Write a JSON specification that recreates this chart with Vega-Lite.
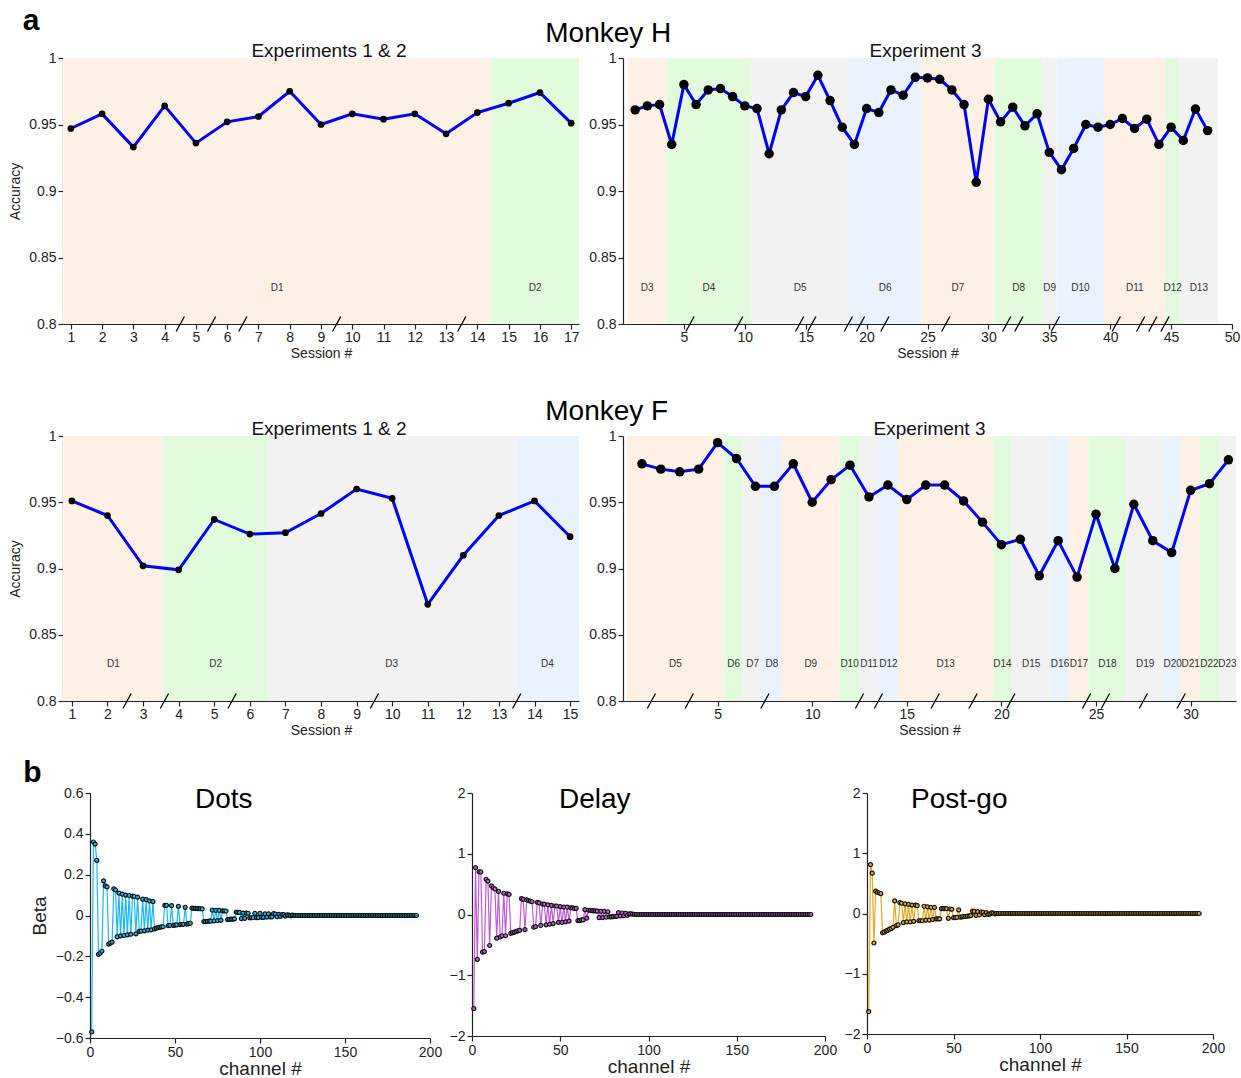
{
  "$schema": "https://vega.github.io/schema/vega-lite/v6.json",
  "background": "white",
  "padding": {"left": 8, "top": 6, "right": 4, "bottom": 0},
  "config": {
    "font": "Liberation Sans",
    "view": {"stroke": null},
    "axis": {
      "grid": false,
      "domainColor": "#222",
      "tickColor": "#222",
      "labelColor": "#222",
      "titleColor": "#222",
      "labelFont": "Liberation Sans",
      "titleFont": "Liberation Sans",
      "titleFontWeight": "normal",
      "labelFontSize": 14,
      "titleFontSize": 14,
      "tickSize": 5,
      "domainWidth": 1.2,
      "tickWidth": 1.2,
      "labelPadding": 2,
      "labelOverlap": false,
      "labelFlush": false
    },
    "title": {"font": "Liberation Sans", "fontWeight": "normal", "color": "#111"}
  },
  "datasets": {
    "hExp12": [
      {"session": 1, "acc": 0.947}, {"session": 2, "acc": 0.958}, {"session": 3, "acc": 0.933},
      {"session": 4, "acc": 0.964}, {"session": 5, "acc": 0.936}, {"session": 6, "acc": 0.952},
      {"session": 7, "acc": 0.956}, {"session": 8, "acc": 0.975}, {"session": 9, "acc": 0.95},
      {"session": 10, "acc": 0.958}, {"session": 11, "acc": 0.954}, {"session": 12, "acc": 0.958},
      {"session": 13, "acc": 0.943}, {"session": 14, "acc": 0.959}, {"session": 15, "acc": 0.966},
      {"session": 16, "acc": 0.974}, {"session": 17, "acc": 0.951}
    ],
    "hExp3": [
      {"session": 1, "acc": 0.961}, {"session": 2, "acc": 0.964}, {"session": 3, "acc": 0.965},
      {"session": 4, "acc": 0.935}, {"session": 5, "acc": 0.98}, {"session": 6, "acc": 0.965},
      {"session": 7, "acc": 0.976}, {"session": 8, "acc": 0.977}, {"session": 9, "acc": 0.971},
      {"session": 10, "acc": 0.964}, {"session": 11, "acc": 0.962}, {"session": 12, "acc": 0.928},
      {"session": 13, "acc": 0.961}, {"session": 14, "acc": 0.974}, {"session": 15, "acc": 0.971},
      {"session": 16, "acc": 0.987}, {"session": 17, "acc": 0.968}, {"session": 18, "acc": 0.948},
      {"session": 19, "acc": 0.935}, {"session": 20, "acc": 0.962}, {"session": 21, "acc": 0.959},
      {"session": 22, "acc": 0.976}, {"session": 23, "acc": 0.972}, {"session": 24, "acc": 0.9855},
      {"session": 25, "acc": 0.985}, {"session": 26, "acc": 0.984}, {"session": 27, "acc": 0.976},
      {"session": 28, "acc": 0.965}, {"session": 29, "acc": 0.9065}, {"session": 30, "acc": 0.969},
      {"session": 31, "acc": 0.952}, {"session": 32, "acc": 0.963}, {"session": 33, "acc": 0.949},
      {"session": 34, "acc": 0.958}, {"session": 35, "acc": 0.929}, {"session": 36, "acc": 0.916},
      {"session": 37, "acc": 0.932}, {"session": 38, "acc": 0.95}, {"session": 39, "acc": 0.948},
      {"session": 40, "acc": 0.95}, {"session": 41, "acc": 0.9545}, {"session": 42, "acc": 0.947},
      {"session": 43, "acc": 0.954}, {"session": 44, "acc": 0.935}, {"session": 45, "acc": 0.948},
      {"session": 46, "acc": 0.938}, {"session": 47, "acc": 0.9616}, {"session": 48, "acc": 0.9454}
    ],
    "fExp12": [
      {"session": 1, "acc": 0.951}, {"session": 2, "acc": 0.94}, {"session": 3, "acc": 0.902},
      {"session": 4, "acc": 0.899}, {"session": 5, "acc": 0.937}, {"session": 6, "acc": 0.926},
      {"session": 7, "acc": 0.927}, {"session": 8, "acc": 0.9415}, {"session": 9, "acc": 0.96},
      {"session": 10, "acc": 0.953}, {"session": 11, "acc": 0.873}, {"session": 12, "acc": 0.91},
      {"session": 13, "acc": 0.94}, {"session": 14, "acc": 0.951}, {"session": 15, "acc": 0.924}
    ],
    "fExp3": [
      {"session": 1, "acc": 0.979}, {"session": 2, "acc": 0.975}, {"session": 3, "acc": 0.973},
      {"session": 4, "acc": 0.975}, {"session": 5, "acc": 0.995}, {"session": 6, "acc": 0.983},
      {"session": 7, "acc": 0.962}, {"session": 8, "acc": 0.962}, {"session": 9, "acc": 0.979},
      {"session": 10, "acc": 0.95}, {"session": 11, "acc": 0.967}, {"session": 12, "acc": 0.978},
      {"session": 13, "acc": 0.954}, {"session": 14, "acc": 0.963}, {"session": 15, "acc": 0.952},
      {"session": 16, "acc": 0.963}, {"session": 17, "acc": 0.963}, {"session": 18, "acc": 0.951},
      {"session": 19, "acc": 0.935}, {"session": 20, "acc": 0.918}, {"session": 21, "acc": 0.922},
      {"session": 22, "acc": 0.8945}, {"session": 23, "acc": 0.921}, {"session": 24, "acc": 0.8935},
      {"session": 25, "acc": 0.941}, {"session": 26, "acc": 0.9}, {"session": 27, "acc": 0.9485},
      {"session": 28, "acc": 0.921}, {"session": 29, "acc": 0.912}, {"session": 30, "acc": 0.959},
      {"session": 31, "acc": 0.964}, {"session": 32, "acc": 0.982}
    ],
    "hDays12": [
      {"day": "D1", "start": 0.75, "end": 14.45, "cycle": 1},
      {"day": "D2", "start": 14.45, "end": 17.25, "cycle": 2}
    ],
    "hDays3": [
      {"day": "D3", "start": 0.4, "end": 3.55, "cycle": 1},
      {"day": "D4", "start": 3.55, "end": 10.55, "cycle": 2},
      {"day": "D5", "start": 10.55, "end": 18.55, "cycle": 3},
      {"day": "D6", "start": 18.55, "end": 24.5, "cycle": 4},
      {"day": "D7", "start": 24.5, "end": 30.5, "cycle": 1},
      {"day": "D8", "start": 30.5, "end": 34.45, "cycle": 2},
      {"day": "D9", "start": 34.45, "end": 35.6, "cycle": 3},
      {"day": "D10", "start": 35.6, "end": 39.5, "cycle": 4},
      {"day": "D11", "start": 39.5, "end": 44.55, "cycle": 1},
      {"day": "D12", "start": 44.55, "end": 45.7, "cycle": 2},
      {"day": "D13", "start": 45.7, "end": 48.85, "cycle": 3}
    ],
    "fDays12": [
      {"day": "D1", "start": 0.75, "end": 3.58, "cycle": 1},
      {"day": "D2", "start": 3.58, "end": 6.5, "cycle": 2},
      {"day": "D3", "start": 6.5, "end": 13.47, "cycle": 3},
      {"day": "D4", "start": 13.47, "end": 15.25, "cycle": 4}
    ],
    "fDays3": [
      {"day": "D5", "start": 0.2, "end": 5.35, "cycle": 1},
      {"day": "D6", "start": 5.35, "end": 6.35, "cycle": 2},
      {"day": "D7", "start": 6.35, "end": 7.35, "cycle": 3},
      {"day": "D8", "start": 7.35, "end": 8.4, "cycle": 4},
      {"day": "D9", "start": 8.4, "end": 11.45, "cycle": 1},
      {"day": "D10", "start": 11.45, "end": 12.5, "cycle": 2},
      {"day": "D11", "start": 12.5, "end": 13.5, "cycle": 3},
      {"day": "D12", "start": 13.5, "end": 14.55, "cycle": 4},
      {"day": "D13", "start": 14.55, "end": 19.55, "cycle": 1},
      {"day": "D14", "start": 19.55, "end": 20.55, "cycle": 2},
      {"day": "D15", "start": 20.55, "end": 22.6, "cycle": 3},
      {"day": "D16", "start": 22.6, "end": 23.6, "cycle": 4},
      {"day": "D17", "start": 23.6, "end": 24.6, "cycle": 1},
      {"day": "D18", "start": 24.6, "end": 26.6, "cycle": 2},
      {"day": "D19", "start": 26.6, "end": 28.6, "cycle": 3},
      {"day": "D20", "start": 28.6, "end": 29.5, "cycle": 4},
      {"day": "D21", "start": 29.5, "end": 30.5, "cycle": 1},
      {"day": "D22", "start": 30.5, "end": 31.5, "cycle": 2},
      {"day": "D23", "start": 31.5, "end": 32.4, "cycle": 3}
    ],
    "hBreaks12": [{"gap": 4.5}, {"gap": 5.5}, {"gap": 6.5}, {"gap": 9.5}, {"gap": 13.5}],
    "hBreaks3": [
      {"gap": 5.5}, {"gap": 9.5}, {"gap": 14.5}, {"gap": 15.5}, {"gap": 18.5}, {"gap": 19.5},
      {"gap": 21.5}, {"gap": 26.5}, {"gap": 31.5}, {"gap": 32.5}, {"gap": 35.5}, {"gap": 40.5},
      {"gap": 42.5}, {"gap": 43.5}, {"gap": 44.5}
    ],
    "fBreaks12": [{"gap": 2.55}, {"gap": 3.6}, {"gap": 5.5}, {"gap": 9.5}, {"gap": 13.5}],
    "fBreaks3": [
      {"gap": 1.5}, {"gap": 3.5}, {"gap": 7.5}, {"gap": 12.5}, {"gap": 13.5}, {"gap": 16.5},
      {"gap": 18.5}, {"gap": 20.5}, {"gap": 24.5}, {"gap": 25.5}, {"gap": 27.5}, {"gap": 29.5}
    ],
    "betas": [
      {"ch": 1, "dots": -0.57, "delay": -1.55, "post": -1.63},
      {"ch": 2, "dots": 0.36, "delay": 0.77, "post": 0.81},
      {"ch": 3, "dots": 0.35, "delay": -0.74, "post": 0.67},
      {"ch": 4, "dots": 0.27, "delay": 0.7, "post": -0.49},
      {"ch": 5, "dots": -0.19, "delay": 0.7, "post": 0.37},
      {"ch": 6, "dots": -0.185, "delay": -0.62, "post": 0.35},
      {"ch": 7, "dots": -0.175, "delay": -0.61, "post": 0.34},
      {"ch": 8, "dots": 0.17, "delay": 0.58, "post": 0.33},
      {"ch": 9, "dots": 0.145, "delay": 0.55, "post": -0.32},
      {"ch": 10, "dots": 0.14, "delay": -0.51, "post": -0.31},
      {"ch": 11, "dots": -0.14, "delay": 0.47, "post": -0.29},
      {"ch": 12, "dots": -0.135, "delay": 0.44, "post": -0.28},
      {"ch": 13, "dots": -0.13, "delay": 0.42, "post": -0.26},
      {"ch": 14, "dots": 0.13, "delay": -0.39, "post": -0.25},
      {"ch": 15, "dots": 0.125, "delay": 0.38, "post": -0.23},
      {"ch": 16, "dots": -0.105, "delay": -0.37, "post": 0.21},
      {"ch": 17, "dots": 0.11, "delay": -0.35, "post": -0.2},
      {"ch": 18, "dots": -0.1, "delay": 0.35, "post": -0.19},
      {"ch": 19, "dots": 0.105, "delay": -0.35, "post": 0.18},
      {"ch": 20, "dots": -0.098, "delay": 0.34, "post": 0.17},
      {"ch": 21, "dots": 0.1, "delay": 0.33, "post": -0.15},
      {"ch": 22, "dots": -0.095, "delay": -0.31, "post": 0.16},
      {"ch": 23, "dots": 0.098, "delay": -0.3, "post": -0.14},
      {"ch": 24, "dots": -0.092, "delay": -0.29, "post": 0.15},
      {"ch": 25, "dots": 0.095, "delay": -0.28, "post": -0.14},
      {"ch": 26, "dots": 0.093, "delay": -0.27, "post": 0.14},
      {"ch": 27, "dots": -0.09, "delay": -0.26, "post": -0.13},
      {"ch": 28, "dots": 0.09, "delay": 0.26, "post": 0.14},
      {"ch": 29, "dots": -0.078, "delay": 0.25, "post": 0.13},
      {"ch": 30, "dots": -0.077, "delay": -0.25, "post": -0.12},
      {"ch": 31, "dots": 0.08, "delay": 0.24, "post": -0.12},
      {"ch": 32, "dots": -0.075, "delay": 0.23, "post": -0.12},
      {"ch": 33, "dots": 0.078, "delay": 0.22, "post": 0.12},
      {"ch": 34, "dots": -0.072, "delay": 0.21, "post": -0.11},
      {"ch": 35, "dots": 0.072, "delay": -0.21, "post": 0.11},
      {"ch": 36, "dots": -0.07, "delay": -0.2, "post": -0.11},
      {"ch": 37, "dots": 0.068, "delay": 0.2, "post": 0.1},
      {"ch": 38, "dots": -0.066, "delay": 0.19, "post": -0.1},
      {"ch": 39, "dots": -0.062, "delay": -0.18, "post": 0.1},
      {"ch": 40, "dots": -0.06, "delay": 0.17, "post": -0.09},
      {"ch": 41, "dots": -0.058, "delay": 0.17, "post": -0.09},
      {"ch": 42, "dots": -0.056, "delay": -0.17, "post": -0.09},
      {"ch": 43, "dots": -0.055, "delay": 0.16, "post": 0.08},
      {"ch": 44, "dots": 0.05, "delay": -0.16, "post": 0.08},
      {"ch": 45, "dots": 0.05, "delay": 0.15, "post": 0.08},
      {"ch": 46, "dots": -0.05, "delay": -0.15, "post": 0.08},
      {"ch": 47, "dots": -0.049, "delay": 0.14, "post": -0.08},
      {"ch": 48, "dots": 0.048, "delay": 0.14, "post": 0.075},
      {"ch": 49, "dots": -0.048, "delay": -0.13, "post": 0.07},
      {"ch": 50, "dots": -0.047, "delay": 0.13, "post": -0.07},
      {"ch": 51, "dots": -0.046, "delay": -0.13, "post": -0.07},
      {"ch": 52, "dots": 0.045, "delay": 0.12, "post": -0.065},
      {"ch": 53, "dots": -0.045, "delay": -0.12, "post": 0.06},
      {"ch": 54, "dots": -0.044, "delay": 0.12, "post": -0.06},
      {"ch": 55, "dots": -0.043, "delay": -0.11, "post": -0.055},
      {"ch": 56, "dots": 0.04, "delay": 0.11, "post": -0.05},
      {"ch": 57, "dots": -0.042, "delay": 0.11, "post": -0.05},
      {"ch": 58, "dots": -0.04, "delay": 0.1, "post": -0.045},
      {"ch": 59, "dots": -0.038, "delay": 0.1, "post": -0.04},
      {"ch": 60, "dots": 0.036, "delay": -0.1, "post": -0.035},
      {"ch": 61, "dots": 0.035, "delay": -0.1, "post": 0.04},
      {"ch": 62, "dots": 0.035, "delay": -0.09, "post": 0.035},
      {"ch": 63, "dots": 0.034, "delay": -0.09, "post": -0.03},
      {"ch": 64, "dots": 0.034, "delay": 0.08, "post": 0.03},
      {"ch": 65, "dots": 0.033, "delay": -0.06, "post": -0.025},
      {"ch": 66, "dots": 0.032, "delay": 0.07, "post": 0.025},
      {"ch": 67, "dots": -0.03, "delay": 0.07, "post": 0.02},
      {"ch": 68, "dots": -0.03, "delay": 0.065, "post": -0.02},
      {"ch": 69, "dots": -0.029, "delay": 0.06, "post": 0.015},
      {"ch": 70, "dots": -0.028, "delay": 0.06, "post": -0.015},
      {"ch": 71, "dots": -0.028, "delay": 0.055, "post": -0.01},
      {"ch": 72, "dots": 0.026, "delay": -0.05, "post": 0.01},
      {"ch": 73, "dots": -0.026, "delay": 0.05, "post": 0.005},
      {"ch": 74, "dots": 0.025, "delay": -0.05, "post": -0.005},
      {"ch": 75, "dots": -0.025, "delay": 0.05, "post": 0.003},
      {"ch": 76, "dots": 0.025, "delay": -0.045, "post": 0},
      {"ch": 77, "dots": -0.024, "delay": 0.045, "post": 0},
      {"ch": 78, "dots": 0.023, "delay": -0.04, "post": 0},
      {"ch": 79, "dots": 0.022, "delay": -0.04, "post": 0},
      {"ch": 80, "dots": 0.022, "delay": -0.035, "post": 0},
      {"ch": 81, "dots": -0.02, "delay": -0.03, "post": 0},
      {"ch": 82, "dots": -0.019, "delay": -0.03, "post": 0},
      {"ch": 83, "dots": -0.018, "delay": 0.03, "post": 0},
      {"ch": 84, "dots": -0.018, "delay": -0.025, "post": 0},
      {"ch": 85, "dots": -0.017, "delay": 0.025, "post": 0},
      {"ch": 86, "dots": 0.016, "delay": -0.02, "post": 0},
      {"ch": 87, "dots": 0.015, "delay": 0.02, "post": 0},
      {"ch": 88, "dots": 0.015, "delay": -0.015, "post": 0},
      {"ch": 89, "dots": -0.015, "delay": 0.01, "post": 0},
      {"ch": 90, "dots": 0.012, "delay": 0.01, "post": 0},
      {"ch": 91, "dots": -0.014, "delay": 0.005, "post": 0},
      {"ch": 92, "dots": 0.012, "delay": 0.003, "post": 0},
      {"ch": 93, "dots": 0.011, "delay": 0, "post": 0},
      {"ch": 94, "dots": -0.012, "delay": 0, "post": 0},
      {"ch": 95, "dots": -0.011, "delay": 0, "post": 0},
      {"ch": 96, "dots": -0.011, "delay": 0, "post": 0},
      {"ch": 97, "dots": 0.01, "delay": 0, "post": 0},
      {"ch": 98, "dots": -0.01, "delay": 0, "post": 0},
      {"ch": 99, "dots": -0.01, "delay": 0, "post": 0},
      {"ch": 100, "dots": 0.01, "delay": 0, "post": 0},
      {"ch": 101, "dots": -0.009, "delay": 0, "post": 0},
      {"ch": 102, "dots": -0.009, "delay": 0, "post": 0},
      {"ch": 103, "dots": 0.008, "delay": 0, "post": 0},
      {"ch": 104, "dots": -0.008, "delay": 0, "post": 0},
      {"ch": 105, "dots": 0.008, "delay": 0, "post": 0},
      {"ch": 106, "dots": -0.007, "delay": 0, "post": 0},
      {"ch": 107, "dots": -0.007, "delay": 0, "post": 0},
      {"ch": 108, "dots": 0.009, "delay": 0, "post": 0},
      {"ch": 109, "dots": 0.007, "delay": 0, "post": 0},
      {"ch": 110, "dots": -0.006, "delay": 0, "post": 0},
      {"ch": 111, "dots": 0.006, "delay": 0, "post": 0},
      {"ch": 112, "dots": -0.004, "delay": 0, "post": 0},
      {"ch": 113, "dots": 0.005, "delay": 0, "post": 0},
      {"ch": 114, "dots": 0.004, "delay": 0, "post": 0},
      {"ch": 115, "dots": -0.003, "delay": 0, "post": 0},
      {"ch": 116, "dots": 0.003, "delay": 0, "post": 0},
      {"ch": 117, "dots": 0.002, "delay": 0, "post": 0},
      {"ch": 118, "dots": -0.002, "delay": 0, "post": 0},
      {"ch": 119, "dots": 0.002, "delay": 0, "post": 0},
      {"ch": 120, "dots": 0.001, "delay": 0, "post": 0},
      {"ch": 121, "dots": 0, "delay": 0, "post": 0},
      {"ch": 122, "dots": 0, "delay": 0, "post": 0},
      {"ch": 123, "dots": 0, "delay": 0, "post": 0},
      {"ch": 124, "dots": 0, "delay": 0, "post": 0},
      {"ch": 125, "dots": 0, "delay": 0, "post": 0},
      {"ch": 126, "dots": 0, "delay": 0, "post": 0},
      {"ch": 127, "dots": 0, "delay": 0, "post": 0},
      {"ch": 128, "dots": 0, "delay": 0, "post": 0},
      {"ch": 129, "dots": 0, "delay": 0, "post": 0},
      {"ch": 130, "dots": 0, "delay": 0, "post": 0},
      {"ch": 131, "dots": 0, "delay": 0, "post": 0},
      {"ch": 132, "dots": 0, "delay": 0, "post": 0},
      {"ch": 133, "dots": 0, "delay": 0, "post": 0},
      {"ch": 134, "dots": 0, "delay": 0, "post": 0},
      {"ch": 135, "dots": 0, "delay": 0, "post": 0},
      {"ch": 136, "dots": 0, "delay": 0, "post": 0},
      {"ch": 137, "dots": 0, "delay": 0, "post": 0},
      {"ch": 138, "dots": 0, "delay": 0, "post": 0},
      {"ch": 139, "dots": 0, "delay": 0, "post": 0},
      {"ch": 140, "dots": 0, "delay": 0, "post": 0},
      {"ch": 141, "dots": 0, "delay": 0, "post": 0},
      {"ch": 142, "dots": 0, "delay": 0, "post": 0},
      {"ch": 143, "dots": 0, "delay": 0, "post": 0},
      {"ch": 144, "dots": 0, "delay": 0, "post": 0},
      {"ch": 145, "dots": 0, "delay": 0, "post": 0},
      {"ch": 146, "dots": 0, "delay": 0, "post": 0},
      {"ch": 147, "dots": 0, "delay": 0, "post": 0},
      {"ch": 148, "dots": 0, "delay": 0, "post": 0},
      {"ch": 149, "dots": 0, "delay": 0, "post": 0},
      {"ch": 150, "dots": 0, "delay": 0, "post": 0},
      {"ch": 151, "dots": 0, "delay": 0, "post": 0},
      {"ch": 152, "dots": 0, "delay": 0, "post": 0},
      {"ch": 153, "dots": 0, "delay": 0, "post": 0},
      {"ch": 154, "dots": 0, "delay": 0, "post": 0},
      {"ch": 155, "dots": 0, "delay": 0, "post": 0},
      {"ch": 156, "dots": 0, "delay": 0, "post": 0},
      {"ch": 157, "dots": 0, "delay": 0, "post": 0},
      {"ch": 158, "dots": 0, "delay": 0, "post": 0},
      {"ch": 159, "dots": 0, "delay": 0, "post": 0},
      {"ch": 160, "dots": 0, "delay": 0, "post": 0},
      {"ch": 161, "dots": 0, "delay": 0, "post": 0},
      {"ch": 162, "dots": 0, "delay": 0, "post": 0},
      {"ch": 163, "dots": 0, "delay": 0, "post": 0},
      {"ch": 164, "dots": 0, "delay": 0, "post": 0},
      {"ch": 165, "dots": 0, "delay": 0, "post": 0},
      {"ch": 166, "dots": 0, "delay": 0, "post": 0},
      {"ch": 167, "dots": 0, "delay": 0, "post": 0},
      {"ch": 168, "dots": 0, "delay": 0, "post": 0},
      {"ch": 169, "dots": 0, "delay": 0, "post": 0},
      {"ch": 170, "dots": 0, "delay": 0, "post": 0},
      {"ch": 171, "dots": 0, "delay": 0, "post": 0},
      {"ch": 172, "dots": 0, "delay": 0, "post": 0},
      {"ch": 173, "dots": 0, "delay": 0, "post": 0},
      {"ch": 174, "dots": 0, "delay": 0, "post": 0},
      {"ch": 175, "dots": 0, "delay": 0, "post": 0},
      {"ch": 176, "dots": 0, "delay": 0, "post": 0},
      {"ch": 177, "dots": 0, "delay": 0, "post": 0},
      {"ch": 178, "dots": 0, "delay": 0, "post": 0},
      {"ch": 179, "dots": 0, "delay": 0, "post": 0},
      {"ch": 180, "dots": 0, "delay": 0, "post": 0},
      {"ch": 181, "dots": 0, "delay": 0, "post": 0},
      {"ch": 182, "dots": 0, "delay": 0, "post": 0},
      {"ch": 183, "dots": 0, "delay": 0, "post": 0},
      {"ch": 184, "dots": 0, "delay": 0, "post": 0},
      {"ch": 185, "dots": 0, "delay": 0, "post": 0},
      {"ch": 186, "dots": 0, "delay": 0, "post": 0},
      {"ch": 187, "dots": 0, "delay": 0, "post": 0},
      {"ch": 188, "dots": 0, "delay": 0, "post": 0},
      {"ch": 189, "dots": 0, "delay": 0, "post": 0},
      {"ch": 190, "dots": 0, "delay": 0, "post": 0},
      {"ch": 191, "dots": 0, "delay": 0, "post": 0},
      {"ch": 192, "dots": 0, "delay": 0, "post": 0}
    ]
  },
  "spacing": 21,
  "vconcat": [
    {
      "title": {"text": "a", "anchor": "start", "frame": "bounds", "dx": 14, "offset": -16, "fontSize": 30, "fontWeight": "bold", "color": "#000"},
      "spacing": 38,
      "vconcat": [
        {
          "title": {"text": "Monkey H", "anchor": "middle", "frame": "bounds", "dx": -16, "offset": -6, "fontSize": 28, "color": "#000"},
          "spacing": 9,
          "hconcat": [
            {
              "width": 516, "height": 266,
              "title": {"text": "Experiments 1 & 2", "frame": "group", "fontSize": 19, "offset": -10, "dx": 8},
              "layer": [
                {
                  "data": {"name": "hDays12"},
                  "mark": {"type": "rect"},
                  "encoding": {
                    "x": {"field": "start", "type": "quantitative", "scale": {"domain": [0.75, 17.25], "nice": false, "zero": false},
                          "axis": {"values": [1,2,3,4,5,6,7,8,9,10,11,12,13,14,15,16,17], "tickCount": 30, "format": "d", "labelOverlap": false, "title": "Session #", "labelPadding": 1, "titlePadding": 2}},
                    "x2": {"field": "end"},
                    "y": {"datum": 0.8, "type": "quantitative", "scale": {"domain": [0.8, 1], "nice": false, "zero": false},
                          "axis": {"values": [0.8, 0.85, 0.9, 0.95, 1], "format": "~g", "title": "Accuracy", "titlePadding": 6}},
                    "y2": {"datum": 1},
                    "color": {"field": "cycle", "type": "nominal", "scale": {"domain": [1, 2, 3, 4], "range": ["#fdf0e4", "#e1fbdc", "#f2f2f2", "#eaf2fe"]}, "legend": null}
                  }
                },
                {
                  "data": {"name": "hDays12"},
                  "transform": [{"calculate": "(datum.start + datum.end) / 2", "as": "mid"}],
                  "mark": {"type": "text", "fontSize": 10, "color": "#333"},
                  "encoding": {
                    "x": {"field": "mid", "type": "quantitative"},
                    "y": {"datum": 0.827, "type": "quantitative"},
                    "text": {"field": "day"}
                  }
                },
                {
                  "data": {"name": "hExp12"},
                  "mark": {"type": "line", "color": "#0000ff", "strokeWidth": 3},
                  "encoding": {"x": {"field": "session", "type": "quantitative"}, "y": {"field": "acc", "type": "quantitative"}}
                },
                {
                  "data": {"name": "hExp12"},
                  "mark": {"type": "point", "filled": true, "color": "#000", "size": 45, "opacity": 1},
                  "encoding": {"x": {"field": "session", "type": "quantitative"}, "y": {"field": "acc", "type": "quantitative"}}
                },
                {
                  "data": {"name": "hBreaks12"},
                  "mark": {"type": "point", "shape": "M -0.55 1 L 0.55 -1", "size": 225, "filled": false, "stroke": "#000", "strokeWidth": 1.3, "opacity": 1},
                  "encoding": {"x": {"field": "gap", "type": "quantitative"}, "y": {"datum": 0.8, "type": "quantitative"}}
                }
              ]
            },
            {
              "width": 609, "height": 266,
              "title": {"text": "Experiment 3", "frame": "group", "fontSize": 19, "offset": -10, "dx": -2},
              "layer": [
                {
                  "data": {"name": "hDays3"},
                  "mark": {"type": "rect"},
                  "encoding": {
                    "x": {"field": "start", "type": "quantitative", "scale": {"domain": [0, 50], "nice": false, "zero": false},
                          "axis": {"values": [5,10,15,20,25,30,35,40,45,50], "tickCount": 30, "format": "d", "labelOverlap": false, "title": "Session #", "labelPadding": 1, "titlePadding": 2}},
                    "x2": {"field": "end"},
                    "y": {"datum": 0.8, "type": "quantitative", "scale": {"domain": [0.8, 1], "nice": false, "zero": false},
                          "axis": {"values": [0.8, 0.85, 0.9, 0.95, 1], "format": "~g", "title": ""}},
                    "y2": {"datum": 1},
                    "color": {"field": "cycle", "type": "nominal", "legend": null}
                  }
                },
                {
                  "data": {"name": "hDays3"},
                  "transform": [{"calculate": "(datum.start + datum.end) / 2", "as": "mid"}],
                  "mark": {"type": "text", "fontSize": 10, "color": "#333"},
                  "encoding": {
                    "x": {"field": "mid", "type": "quantitative"},
                    "y": {"datum": 0.827, "type": "quantitative"},
                    "text": {"field": "day"}
                  }
                },
                {
                  "data": {"name": "hExp3"},
                  "mark": {"type": "line", "color": "#0000ff", "strokeWidth": 3},
                  "encoding": {"x": {"field": "session", "type": "quantitative"}, "y": {"field": "acc", "type": "quantitative"}}
                },
                {
                  "data": {"name": "hExp3"},
                  "mark": {"type": "point", "filled": true, "color": "#000", "size": 90, "opacity": 1},
                  "encoding": {"x": {"field": "session", "type": "quantitative"}, "y": {"field": "acc", "type": "quantitative"}}
                },
                {
                  "data": {"name": "hBreaks3"},
                  "mark": {"type": "point", "shape": "M -0.55 1 L 0.55 -1", "size": 225, "filled": false, "stroke": "#000", "strokeWidth": 1.3, "opacity": 1},
                  "encoding": {"x": {"field": "gap", "type": "quantitative"}, "y": {"datum": 0.8, "type": "quantitative"}}
                }
              ]
            }
          ]
        },
        {
          "title": {"text": "Monkey F", "anchor": "middle", "frame": "bounds", "dx": -16, "offset": -6, "fontSize": 28, "color": "#000"},
          "spacing": 9,
          "hconcat": [
            {
              "width": 516, "height": 265,
              "title": {"text": "Experiments 1 & 2", "frame": "group", "fontSize": 19, "offset": -10, "dx": 8},
              "layer": [
                {
                  "data": {"name": "fDays12"},
                  "mark": {"type": "rect"},
                  "encoding": {
                    "x": {"field": "start", "type": "quantitative", "scale": {"domain": [0.75, 15.25], "nice": false, "zero": false},
                          "axis": {"values": [1,2,3,4,5,6,7,8,9,10,11,12,13,14,15], "tickCount": 30, "format": "d", "labelOverlap": false, "title": "Session #", "labelPadding": 1, "titlePadding": 2}},
                    "x2": {"field": "end"},
                    "y": {"datum": 0.8, "type": "quantitative", "scale": {"domain": [0.8, 1], "nice": false, "zero": false},
                          "axis": {"values": [0.8, 0.85, 0.9, 0.95, 1], "format": "~g", "title": "Accuracy", "titlePadding": 6}},
                    "y2": {"datum": 1},
                    "color": {"field": "cycle", "type": "nominal", "legend": null}
                  }
                },
                {
                  "data": {"name": "fDays12"},
                  "transform": [{"calculate": "(datum.start + datum.end) / 2", "as": "mid"}],
                  "mark": {"type": "text", "fontSize": 10, "color": "#333"},
                  "encoding": {
                    "x": {"field": "mid", "type": "quantitative"},
                    "y": {"datum": 0.828, "type": "quantitative"},
                    "text": {"field": "day"}
                  }
                },
                {
                  "data": {"name": "fExp12"},
                  "mark": {"type": "line", "color": "#0000ff", "strokeWidth": 3},
                  "encoding": {"x": {"field": "session", "type": "quantitative"}, "y": {"field": "acc", "type": "quantitative"}}
                },
                {
                  "data": {"name": "fExp12"},
                  "mark": {"type": "point", "filled": true, "color": "#000", "size": 45, "opacity": 1},
                  "encoding": {"x": {"field": "session", "type": "quantitative"}, "y": {"field": "acc", "type": "quantitative"}}
                },
                {
                  "data": {"name": "fBreaks12"},
                  "mark": {"type": "point", "shape": "M -0.55 1 L 0.55 -1", "size": 225, "filled": false, "stroke": "#000", "strokeWidth": 1.3, "opacity": 1},
                  "encoding": {"x": {"field": "gap", "type": "quantitative"}, "y": {"datum": 0.8, "type": "quantitative"}}
                }
              ]
            },
            {
              "width": 613, "height": 265,
              "title": {"text": "Experiment 3", "frame": "group", "fontSize": 19, "offset": -10},
              "layer": [
                {
                  "data": {"name": "fDays3"},
                  "mark": {"type": "rect"},
                  "encoding": {
                    "x": {"field": "start", "type": "quantitative", "scale": {"domain": [0, 32.4], "nice": false, "zero": false},
                          "axis": {"values": [5,10,15,20,25,30], "tickCount": 30, "format": "d", "labelOverlap": false, "title": "Session #", "labelPadding": 1, "titlePadding": 2}},
                    "x2": {"field": "end"},
                    "y": {"datum": 0.8, "type": "quantitative", "scale": {"domain": [0.8, 1], "nice": false, "zero": false},
                          "axis": {"values": [0.8, 0.85, 0.9, 0.95, 1], "format": "~g", "title": ""}},
                    "y2": {"datum": 1},
                    "color": {"field": "cycle", "type": "nominal", "legend": null}
                  }
                },
                {
                  "data": {"name": "fDays3"},
                  "transform": [{"calculate": "(datum.start + datum.end) / 2", "as": "mid"}],
                  "mark": {"type": "text", "fontSize": 10, "color": "#333"},
                  "encoding": {
                    "x": {"field": "mid", "type": "quantitative"},
                    "y": {"datum": 0.828, "type": "quantitative"},
                    "text": {"field": "day"}
                  }
                },
                {
                  "data": {"name": "fExp3"},
                  "mark": {"type": "line", "color": "#0000ff", "strokeWidth": 3},
                  "encoding": {"x": {"field": "session", "type": "quantitative"}, "y": {"field": "acc", "type": "quantitative"}}
                },
                {
                  "data": {"name": "fExp3"},
                  "mark": {"type": "point", "filled": true, "color": "#000", "size": 90, "opacity": 1},
                  "encoding": {"x": {"field": "session", "type": "quantitative"}, "y": {"field": "acc", "type": "quantitative"}}
                },
                {
                  "data": {"name": "fBreaks3"},
                  "mark": {"type": "point", "shape": "M -0.55 1 L 0.55 -1", "size": 225, "filled": false, "stroke": "#000", "strokeWidth": 1.3, "opacity": 1},
                  "encoding": {"x": {"field": "gap", "type": "quantitative"}, "y": {"datum": 0.8, "type": "quantitative"}}
                }
              ]
            }
          ]
        }
      ]
    },
    {
      "title": {"text": "b", "anchor": "start", "frame": "bounds", "dx": -7, "offset": -2, "fontSize": 30, "fontWeight": "bold", "color": "#000"},
      "spacing": -34,
      "hconcat": [
        {"width": 1, "height": 245, "data": {"values": []}, "mark": {"type": "point", "opacity": 0}, "encoding": {}},
        {
          "spacing": 7,
          "hconcat": [
            {
              "width": 340, "height": 245,
              "title": {"text": "Dots", "anchor": "start", "frame": "group", "dx": 105, "offset": -28, "fontSize": 28, "color": "#000"},
              "data": {"name": "betas"},
              "encoding": {
                "x": {"field": "ch", "type": "quantitative", "scale": {"domain": [0, 200], "nice": false},
                      "axis": {"values": [0, 50, 100, 150, 200], "title": "channel #", "titleFontSize": 19, "titlePadding": 0, "labelPadding": 2}}
              },
              "layer": [
                {
                  "mark": {"type": "line", "color": "#1cb8f2", "strokeWidth": 1.2},
                  "encoding": {"y": {"field": "dots", "type": "quantitative", "scale": {"domain": [-0.6, 0.6], "nice": false, "zero": false},
                    "axis": {"values": [-0.6, -0.4, -0.2, 0, 0.2, 0.4, 0.6], "format": "~g", "title": "Beta", "titleFontSize": 19, "titlePadding": 6}}}
                },
                {
                  "mark": {"type": "point", "filled": true, "color": "#1cb8f2", "stroke": "#111", "strokeWidth": 1.2, "size": 16, "opacity": 1},
                  "encoding": {"y": {"field": "dots", "type": "quantitative"}}
                }
              ]
            },
            {
              "width": 353, "height": 243,
              "title": {"text": "Delay", "anchor": "start", "frame": "group", "dx": 87, "offset": -28, "fontSize": 28, "color": "#000"},
              "data": {"name": "betas"},
              "encoding": {
                "x": {"field": "ch", "type": "quantitative", "scale": {"domain": [0, 200], "nice": false},
                      "axis": {"values": [0, 50, 100, 150, 200], "title": "channel #", "titleFontSize": 19, "titlePadding": 0, "labelPadding": 2}}
              },
              "layer": [
                {
                  "mark": {"type": "line", "color": "#c15ad6", "strokeWidth": 1.2},
                  "encoding": {"y": {"field": "delay", "type": "quantitative", "scale": {"domain": [-2, 2], "nice": false, "zero": false},
                    "axis": {"values": [-2, -1, 0, 1, 2], "format": "~g", "title": null}}}
                },
                {
                  "mark": {"type": "point", "filled": true, "color": "#c15ad6", "stroke": "#111", "strokeWidth": 1.2, "size": 16, "opacity": 1},
                  "encoding": {"y": {"field": "delay", "type": "quantitative"}}
                }
              ]
            },
            {
              "width": 346, "height": 241,
              "title": {"text": "Post-go", "anchor": "start", "frame": "group", "dx": 44, "offset": -28, "fontSize": 28, "color": "#000"},
              "data": {"name": "betas"},
              "encoding": {
                "x": {"field": "ch", "type": "quantitative", "scale": {"domain": [0, 200], "nice": false},
                      "axis": {"values": [0, 50, 100, 150, 200], "title": "channel #", "titleFontSize": 19, "titlePadding": 0, "labelPadding": 2}}
              },
              "layer": [
                {
                  "mark": {"type": "line", "color": "#e6a91e", "strokeWidth": 1.2},
                  "encoding": {"y": {"field": "post", "type": "quantitative", "scale": {"domain": [-2, 2], "nice": false, "zero": false},
                    "axis": {"values": [-2, -1, 0, 1, 2], "format": "~g", "title": null}}}
                },
                {
                  "mark": {"type": "point", "filled": true, "color": "#e6a91e", "stroke": "#111", "strokeWidth": 1.2, "size": 16, "opacity": 1},
                  "encoding": {"y": {"field": "post", "type": "quantitative"}}
                }
              ]
            }
          ]
        }
      ]
    }
  ]
}
